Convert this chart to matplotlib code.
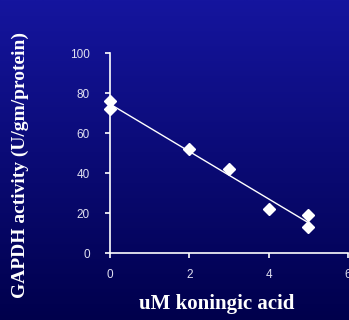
import numpy as np
import matplotlib
matplotlib.use("Agg")
import matplotlib.pyplot as plt
from matplotlib.colors import LinearSegmentedColormap

conc = [0, 0, 2, 3, 4, 5, 5]
activity = [76, 72, 52, 42, 22, 19, 13]
xticks = [0, 2, 4, 6]
yticks = [0, 20, 40, 60, 80, 100]
xlabel = "uM koningic acid"
ylabel = "GAPDH activity (U/gm/protein)"

fig = plt.figure(figsize=(3.49, 3.2), dpi=100)

# gradient background
bg = fig.add_axes([0, 0, 1, 1], zorder=-10)
cmap = LinearSegmentedColormap.from_list("bg", ["#00004c", "#15159e"])
grad = np.linspace(0, 1, 256).reshape(-1, 1)
bg.imshow(grad, aspect="auto", cmap=cmap, origin="lower", extent=[0, 1, 0, 1])
bg.axis("off")

ax = fig.add_axes([110/349, 67/320, 238/349, 200/320])
ax.patch.set_alpha(0)

coef = np.polyfit(conc, activity, 1)
xl = np.array([min(conc), max(conc)])
ax.plot(xl, np.polyval(coef, xl), color="white", lw=1.0, zorder=2)
ax.plot(conc, activity, linestyle="none", marker="D", markersize=6.5,
        color="white", markeredgecolor="white", zorder=3, clip_on=False)

ax.set_xlim(0, 6)
ax.set_ylim(0, 100)
ax.set_xticks(xticks)
ax.set_yticks(yticks)
for s in ["top", "right"]:
    ax.spines[s].set_visible(False)
for s in ["left", "bottom"]:
    ax.spines[s].set_color("white")
    ax.spines[s].set_linewidth(1.2)
ax.tick_params(colors="white", labelcolor="#e0e0f0", labelsize=8.5, length=3.6,
               width=1.2, direction="out")
ax.tick_params(axis="y", pad=11)
ax.tick_params(axis="x", pad=8)
for lab in ax.get_xticklabels() + ax.get_yticklabels():
    lab.set_family("Liberation Sans")

fig.text(217/349, 1 - 304/320, xlabel, ha="center", va="center",
         color="white", fontsize=15, fontweight="bold", family="Liberation Serif")
fig.text(20/349, 1 - 165/320, ylabel, ha="center", va="center", rotation=90,
         color="white", fontsize=14, fontweight="bold", family="Liberation Serif")

fig.savefig("out.png", dpi=100)
